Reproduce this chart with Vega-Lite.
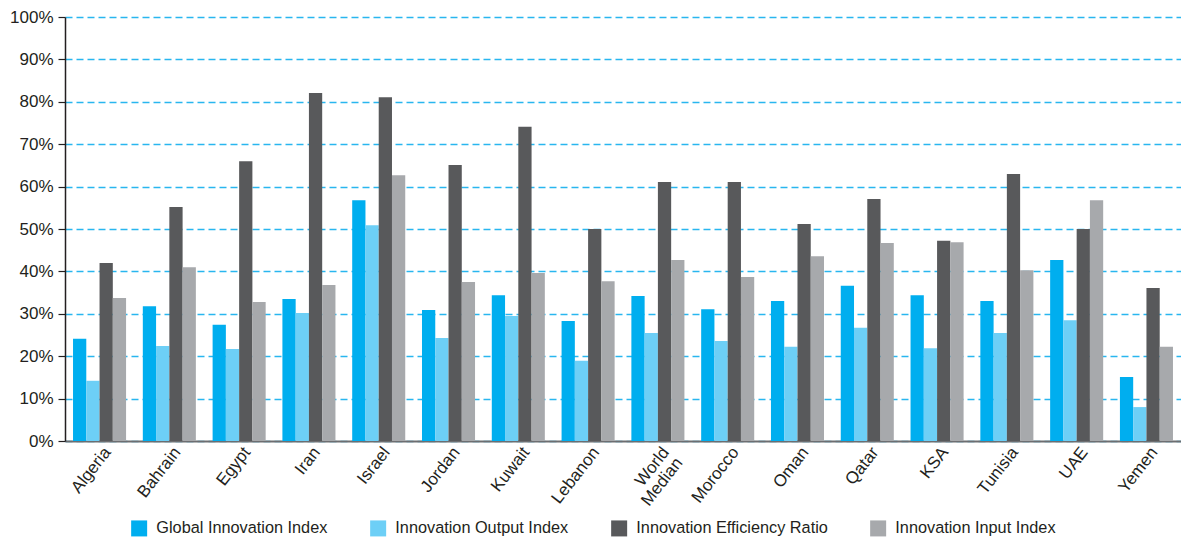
{
  "$schema": "https://vega.github.io/schema/vega-lite/v6.json",
  "width": 1116,
  "height": 424,
  "autosize": {"type": "none"},
  "padding": {"left": 65, "top": 17, "right": 0, "bottom": 99},
  "background": "white",
  "config": {
    "view": {"stroke": null},
    "font": "Liberation Sans"
  },
  "data": {
    "values": [
      {"country": "Algeria", "series": "Global Innovation Index", "v": 24.1},
      {"country": "Algeria", "series": "Innovation Output Index", "v": 14.2},
      {"country": "Algeria", "series": "Innovation Efficiency Ratio", "v": 42.0},
      {"country": "Algeria", "series": "Innovation Input Index", "v": 33.7},
      {"country": "Bahrain", "series": "Global Innovation Index", "v": 31.8},
      {"country": "Bahrain", "series": "Innovation Output Index", "v": 22.4},
      {"country": "Bahrain", "series": "Innovation Efficiency Ratio", "v": 55.2},
      {"country": "Bahrain", "series": "Innovation Input Index", "v": 41.0},
      {"country": "Egypt", "series": "Global Innovation Index", "v": 27.4},
      {"country": "Egypt", "series": "Innovation Output Index", "v": 21.7},
      {"country": "Egypt", "series": "Innovation Efficiency Ratio", "v": 66.0},
      {"country": "Egypt", "series": "Innovation Input Index", "v": 32.8},
      {"country": "Iran", "series": "Global Innovation Index", "v": 33.5},
      {"country": "Iran", "series": "Innovation Output Index", "v": 30.2},
      {"country": "Iran", "series": "Innovation Efficiency Ratio", "v": 82.1},
      {"country": "Iran", "series": "Innovation Input Index", "v": 36.8},
      {"country": "Israel", "series": "Global Innovation Index", "v": 56.8},
      {"country": "Israel", "series": "Innovation Output Index", "v": 50.9},
      {"country": "Israel", "series": "Innovation Efficiency Ratio", "v": 81.1},
      {"country": "Israel", "series": "Innovation Input Index", "v": 62.7},
      {"country": "Jordan", "series": "Global Innovation Index", "v": 30.9},
      {"country": "Jordan", "series": "Innovation Output Index", "v": 24.3},
      {"country": "Jordan", "series": "Innovation Efficiency Ratio", "v": 65.1},
      {"country": "Jordan", "series": "Innovation Input Index", "v": 37.5},
      {"country": "Kuwait", "series": "Global Innovation Index", "v": 34.4},
      {"country": "Kuwait", "series": "Innovation Output Index", "v": 29.5},
      {"country": "Kuwait", "series": "Innovation Efficiency Ratio", "v": 74.1},
      {"country": "Kuwait", "series": "Innovation Input Index", "v": 39.6},
      {"country": "Lebanon", "series": "Global Innovation Index", "v": 28.3},
      {"country": "Lebanon", "series": "Innovation Output Index", "v": 18.9},
      {"country": "Lebanon", "series": "Innovation Efficiency Ratio", "v": 50.0},
      {"country": "Lebanon", "series": "Innovation Input Index", "v": 37.7},
      {"country": "World Median", "series": "Global Innovation Index", "v": 34.2},
      {"country": "World Median", "series": "Innovation Output Index", "v": 25.5},
      {"country": "World Median", "series": "Innovation Efficiency Ratio", "v": 61.1},
      {"country": "World Median", "series": "Innovation Input Index", "v": 42.7},
      {"country": "Morocco", "series": "Global Innovation Index", "v": 31.1},
      {"country": "Morocco", "series": "Innovation Output Index", "v": 23.6},
      {"country": "Morocco", "series": "Innovation Efficiency Ratio", "v": 61.1},
      {"country": "Morocco", "series": "Innovation Input Index", "v": 38.7},
      {"country": "Oman", "series": "Global Innovation Index", "v": 33.0},
      {"country": "Oman", "series": "Innovation Output Index", "v": 22.2},
      {"country": "Oman", "series": "Innovation Efficiency Ratio", "v": 51.2},
      {"country": "Oman", "series": "Innovation Input Index", "v": 43.6},
      {"country": "Qatar", "series": "Global Innovation Index", "v": 36.6},
      {"country": "Qatar", "series": "Innovation Output Index", "v": 26.7},
      {"country": "Qatar", "series": "Innovation Efficiency Ratio", "v": 57.1},
      {"country": "Qatar", "series": "Innovation Input Index", "v": 46.7},
      {"country": "KSA", "series": "Global Innovation Index", "v": 34.4},
      {"country": "KSA", "series": "Innovation Output Index", "v": 21.9},
      {"country": "KSA", "series": "Innovation Efficiency Ratio", "v": 47.2},
      {"country": "KSA", "series": "Innovation Input Index", "v": 46.9},
      {"country": "Tunisia", "series": "Global Innovation Index", "v": 33.0},
      {"country": "Tunisia", "series": "Innovation Output Index", "v": 25.5},
      {"country": "Tunisia", "series": "Innovation Efficiency Ratio", "v": 63.0},
      {"country": "Tunisia", "series": "Innovation Input Index", "v": 40.3},
      {"country": "UAE", "series": "Global Innovation Index", "v": 42.7},
      {"country": "UAE", "series": "Innovation Output Index", "v": 28.5},
      {"country": "UAE", "series": "Innovation Efficiency Ratio", "v": 50.0},
      {"country": "UAE", "series": "Innovation Input Index", "v": 56.8},
      {"country": "Yemen", "series": "Global Innovation Index", "v": 15.1},
      {"country": "Yemen", "series": "Innovation Output Index", "v": 8.0},
      {"country": "Yemen", "series": "Innovation Efficiency Ratio", "v": 36.1},
      {"country": "Yemen", "series": "Innovation Input Index", "v": 22.2}
    ]
  },
  "mark": {"type": "bar"},
  "encoding": {
    "x": {
      "field": "country",
      "type": "nominal",
      "sort": null,
      "scale": {"paddingInner": 0.24, "paddingOuter": 0.115},
      "axis": {
        "title": null,
        "domainColor": "#6d6e71",
        "domainWidth": 2,
        "ticks": false,
        "labelAngle": -52,
        "labelAlign": "right",
        "labelBaseline": "middle",
        "labelFontSize": 17,
        "labelColor": "#231f20",
        "labelPadding": 8,
        "labelOffset": 8,
        "labelLineHeight": 17,
        "labelExpr": "datum.value == 'World Median' ? ['World', 'Median'] : datum.value"
      }
    },
    "xOffset": {
      "field": "series",
      "type": "nominal",
      "sort": ["Global Innovation Index", "Innovation Output Index", "Innovation Efficiency Ratio", "Innovation Input Index"],
      "scale": {"paddingInner": 0, "paddingOuter": 0}
    },
    "y": {
      "field": "v",
      "type": "quantitative",
      "scale": {"domain": [0, 100], "nice": false},
      "axis": {
        "title": null,
        "values": [0, 10, 20, 30, 40, 50, 60, 70, 80, 90, 100],
        "labelExpr": "datum.value + '%'",
        "labelFontSize": 17,
        "labelColor": "#231f20",
        "labelPadding": 5,
        "domainColor": "#231f20",
        "domainWidth": 1.5,
        "tickColor": "#231f20",
        "tickSize": 7,
        "tickWidth": 1.2,
        "grid": true,
        "gridColor": "#29b6ef",
        "gridDash": [7, 4],
        "gridWidth": 1.5
      }
    },
    "color": {
      "field": "series",
      "type": "nominal",
      "scale": {
        "domain": ["Global Innovation Index", "Innovation Output Index", "Innovation Efficiency Ratio", "Innovation Input Index"],
        "range": ["#00aeef", "#6dcff6", "#58595b", "#a7a9ac"]
      },
      "legend": {
        "title": null,
        "orient": "none",
        "direction": "horizontal",
        "legendX": 66,
        "legendY": 503,
        "symbolType": "square",
        "symbolSize": 256,
        "symbolStrokeWidth": 0,
        "labelFontSize": 16.3,
        "labelLimit": 0,
        "labelColor": "#231f20",
        "labelOffset": 9,
        "columnPadding": 42
      }
    }
  }
}
